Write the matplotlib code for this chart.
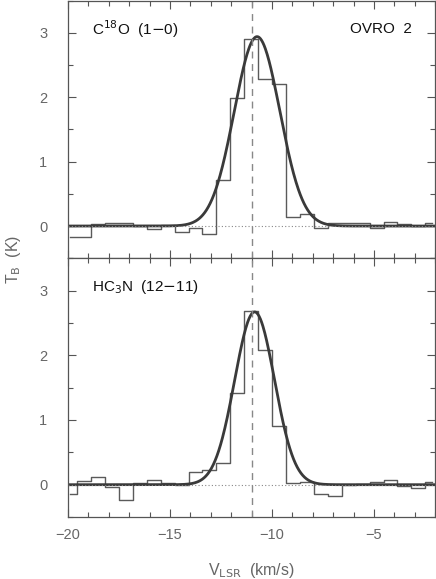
import numpy as np
import matplotlib
matplotlib.use("Agg")
import matplotlib.pyplot as plt
from matplotlib.ticker import MultipleLocator

plt.rcParams['font.family'] = ['Liberation Sans', 'DejaVu Sans']

# channel centres (km/s), same grid for both lines
velocity = [-19.90, -19.21, -18.53, -17.85, -17.17, -16.48, -15.80, -15.12,
            -14.43, -13.75, -13.07, -12.39, -11.70, -11.02, -10.34, -9.65,
            -8.97, -8.29, -7.61, -6.92, -6.24, -5.56, -4.87, -4.19,
            -3.51, -2.83, -2.14]

# C18O (1-0) spectrum, T_B in K
c18o_tb = [-0.17, -0.17, 0.03, 0.05, 0.05, 0.00, -0.04, 0.01,
           -0.10, -0.03, -0.12, 0.71, 1.98, 2.91, 2.29, 2.20,
           0.14, 0.18, -0.03, 0.05, 0.05, 0.05, -0.035, 0.07,
           0.035, 0.00, 0.05]

# HC3N (12-11) spectrum, T_B in K
hc3n_tb = [-0.14, 0.06, 0.12, -0.03, -0.24, 0.03, 0.07, 0.02,
           0.00, 0.19, 0.22, 0.34, 1.42, 2.68, 2.08, 0.90,
           0.03, 0.04, -0.14, -0.17, 0.00, 0.015, 0.035, 0.07,
           -0.015, -0.05, 0.035]

# gaussian fit parameters: amplitude (K), centre (km/s), FWHM (km/s)
c18o_fit = [2.94, -10.73, 2.63]
hc3n_fit = [2.67, -10.85, 2.30]

v_sys = -11.0  # systemic velocity marker

panels = [
    ("C$^{18}$O  (1$-$0)", c18o_tb, c18o_fit),
    ("HC$_3$N  (12$-$11)", hc3n_tb, hc3n_fit),
]


def gauss(v, amp, v0, fwhm):
    sigma = fwhm / (2 * np.sqrt(2 * np.log(2)))
    return amp * np.exp(-0.5 * ((v - v0) / sigma) ** 2)


fig = plt.figure(figsize=(4.36, 5.79), dpi=100)
left, width = 0.156, 0.842
ax_top = fig.add_axes([left, 0.554, width, 0.445])
ax_bot = fig.add_axes([left, 0.107, width, 0.447], sharex=ax_top)

vfine = np.linspace(-20, -2, 600)
grey = "#555555"

for ax, (label, tb, fit) in zip([ax_top, ax_bot], panels):
    ax.plot(velocity, tb, drawstyle="steps-mid", color="#5a5a5a", lw=1.0)
    ax.plot(vfine, gauss(vfine, *fit), color="#3a3a3a", lw=2.0)
    ax.axhline(0, color="#888888", lw=0.8, ls=(0, (1, 2)))
    ax.axvline(v_sys, color="#888888", lw=1.0, ls=(0, (5, 4)))
    ax.set_xlim(-20, -2)
    ax.set_ylim(-0.5, 3.5)
    ax.xaxis.set_major_locator(MultipleLocator(5))
    ax.xaxis.set_minor_locator(MultipleLocator(1))
    ax.yaxis.set_major_locator(MultipleLocator(1))
    ax.yaxis.set_minor_locator(MultipleLocator(0.5))
    ax.tick_params(which="both", direction="in", top=True, right=True,
                   colors=grey, labelcolor="#666666", labelsize=10.5)
    ax.tick_params(which="major", length=6, width=0.8)
    ax.tick_params(which="minor", length=3.5, width=0.8)
    ax.tick_params(axis="x", which="major", pad=8)
    ax.tick_params(axis="y", which="major", pad=15)
    for s in ax.spines.values():
        s.set_color(grey)
        s.set_linewidth(0.9)
    ax.text(0.065, 0.89, label, transform=ax.transAxes, fontsize=11,
            color="#111111", va="center", ha="left")

ax_top.text(0.936, 0.89, "OVRO  2", transform=ax_top.transAxes, fontsize=11,
            color="#111111", va="center", ha="right")
ax_top.tick_params(labelbottom=False)

ax_bot.set_xticklabels(["", "\u221220", "\u221215", "\u221210", "\u22125", ""])
ax_bot.xaxis.set_major_locator(MultipleLocator(5))

fig.text(0.576, 1 - 570 / 579, "V$_{\\mathrm{LSR}}$  (km/s)", ha="center",
         va="center", fontsize=11.5, color="#666666")
fig.text(0.032, 1 - 259 / 579, "T$_{\\mathrm{B}}$  (K)", rotation=90,
         ha="center", va="center", fontsize=11.5, color="#666666")

fig.savefig("out.png", dpi=100)
